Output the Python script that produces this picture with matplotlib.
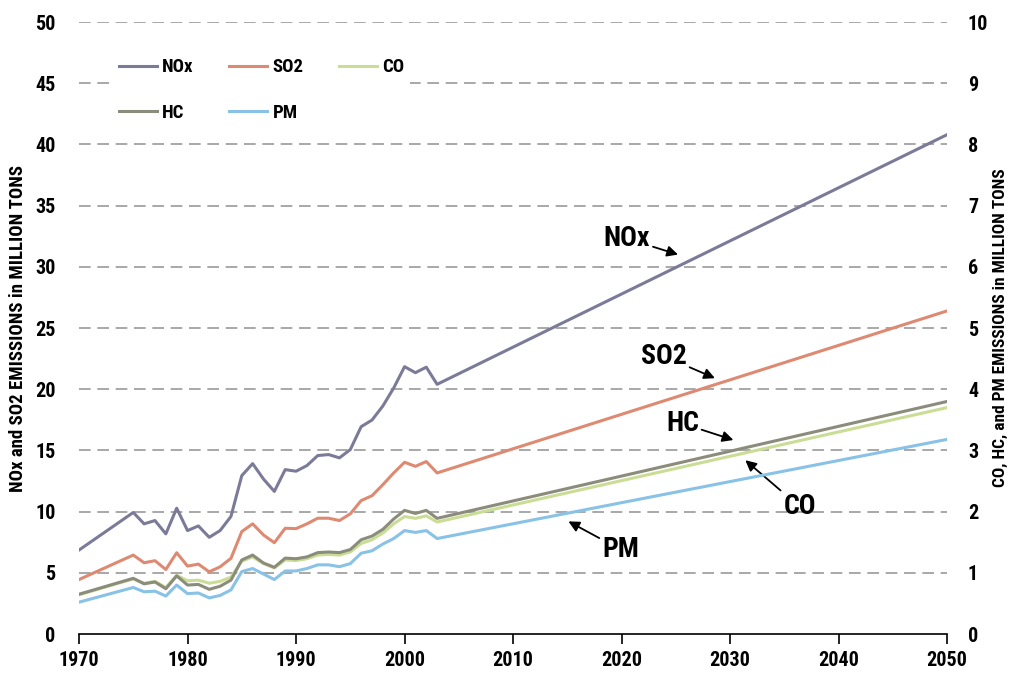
import matplotlib
matplotlib.use("Agg")
import matplotlib.pyplot as plt
from matplotlib.ticker import MultipleLocator

plt.rcParams['font.family'] = ['Roboto Condensed', 'DejaVu Sans']
plt.rcParams['font.stretch'] = 'condensed'
plt.rcParams['font.weight'] = 'bold'

years = [1970, 1975, 1976, 1977, 1978, 1979, 1980, 1981, 1982, 1983, 1984,
         1985, 1986, 1987, 1988, 1989, 1990, 1991, 1992, 1993, 1994, 1995,
         1996, 1997, 1998, 1999, 2000, 2001, 2002, 2003, 2050]

# left axis (million tons)
nox = [6.86, 9.93, 9.0, 9.27, 8.18, 10.28, 8.45, 8.83, 7.9, 8.45, 9.6,
       12.94, 13.92, 12.66, 11.65, 13.43, 13.3, 13.76, 14.58, 14.66, 14.39, 15.07,
       16.94, 17.48, 18.63, 20.1, 21.84, 21.35, 21.8, 20.4, 40.8]
so2 = [4.45, 6.45, 5.82, 5.99, 5.27, 6.64, 5.55, 5.71, 5.08, 5.49, 6.18,
       8.37, 9.0, 8.09, 7.46, 8.64, 8.61, 9.0, 9.46, 9.46, 9.27, 9.82,
       10.9, 11.3, 12.2, 13.16, 14.03, 13.7, 14.09, 13.16, 26.4]

# right axis (million tons)
co = [0.64, 0.90, 0.83, 0.86, 0.76, 0.96, 0.87, 0.88, 0.83, 0.86, 0.93,
      1.19, 1.26, 1.15, 1.08, 1.21, 1.20, 1.23, 1.29, 1.30, 1.29, 1.34,
      1.48, 1.54, 1.65, 1.80, 1.92, 1.89, 1.93, 1.83, 3.70]
hc = [0.65, 0.91, 0.82, 0.85, 0.74, 0.95, 0.80, 0.81, 0.73, 0.78, 0.88,
      1.21, 1.29, 1.16, 1.09, 1.24, 1.23, 1.26, 1.33, 1.34, 1.33, 1.38,
      1.54, 1.60, 1.71, 1.88, 2.02, 1.97, 2.02, 1.89, 3.80]
pm = [0.52, 0.76, 0.69, 0.70, 0.62, 0.80, 0.66, 0.67, 0.59, 0.63, 0.72,
      1.02, 1.07, 0.98, 0.89, 1.03, 1.03, 1.07, 1.13, 1.13, 1.10, 1.15,
      1.32, 1.36, 1.47, 1.56, 1.69, 1.66, 1.69, 1.56, 3.18]

xticks = [1970, 1980, 1990, 2000, 2010, 2020, 2030, 2040, 2050]

c_nox = '#7b7b99'
c_so2 = '#de8a72'
c_co = '#cadd95'
c_hc = '#8c8c7c'
c_pm = '#88c2e6'

fig = plt.figure(figsize=(10.13, 6.77), dpi=100)
ax = fig.add_axes([0.078, 0.0635, 0.857, 0.904])
ax2 = ax.twinx()

lw = 2.2
l_nox, = ax.plot(years, nox, color=c_nox, lw=lw, label='NOx', zorder=3)
l_so2, = ax.plot(years, so2, color=c_so2, lw=lw, label='SO2', zorder=3)
l_co, = ax2.plot(years, co, color=c_co, lw=lw, label='CO', zorder=3)
l_hc, = ax2.plot(years, hc, color=c_hc, lw=lw, label='HC', zorder=4)
l_pm, = ax2.plot(years, pm, color=c_pm, lw=lw, label='PM', zorder=3)

ax.set_xlim(1970, 2050)
ax.set_ylim(0, 50)
ax2.set_ylim(0, 10)
ax.set_xticks(xticks)
ax.yaxis.set_major_locator(MultipleLocator(5))
ax2.yaxis.set_major_locator(MultipleLocator(1))

for a in (ax, ax2):
    for s in ('left', 'right', 'top', 'bottom'):
        a.spines[s].set_visible(False)
ax.spines['bottom'].set_visible(True)
ax.spines['bottom'].set_linewidth(1.2)

ax.tick_params(axis='x', direction='out', length=7, width=1.2, labelsize=14.5, pad=5)
ax.tick_params(axis='y', length=0, labelsize=14.5, pad=17)
ax2.tick_params(axis='y', length=0, labelsize=14.5, pad=15)
for lab in ax.get_xticklabels() + ax.get_yticklabels() + ax2.get_yticklabels():
    lab.set_fontweight('bold')

# dashed gridlines (skip 0 where the axis line sits)
for v in range(5, 55, 5):
    ax.axhline(v, color='#9a9a9a', lw=1.2, ls=(0, (7, 4)), zorder=1)

ax.set_ylabel('NOx and SO2 EMISSIONS in MILLION TONS', fontsize=13.5,
              fontweight='bold', labelpad=6)
ax2.set_ylabel('CO, HC, and PM EMISSIONS in MILLION TONS', fontsize=12.5,
               fontweight='bold', labelpad=3)

# column-major order so rows read NOx SO2 CO / HC PM
leg = ax2.legend(handles=[l_nox, l_hc, l_so2, l_pm, l_co], ncol=3,
                 loc='upper left', bbox_to_anchor=(0.029, 0.965),
                 frameon=True, facecolor='white', edgecolor='none', framealpha=1,
                 prop={'size': 13.5, 'weight': 'bold'},
                 handlelength=2.0, handletextpad=0.3,
                 columnspacing=1.9, labelspacing=1.45, borderpad=0.3)

arrow = dict(arrowstyle='-|>', color='black', lw=1.3, mutation_scale=16,
             shrinkA=0, shrinkB=0)
ann_fs = 20
ax.annotate('NOx', xy=(2025.2, 31.0), xytext=(2020.5, 32.3), fontsize=ann_fs,
            fontweight='bold', ha='center', va='center', arrowprops=arrow, zorder=6)
ax.annotate('SO2', xy=(2028.6, 20.9), xytext=(2023.9, 22.7), fontsize=ann_fs,
            fontweight='bold', ha='center', va='center', arrowprops=arrow, zorder=6)
ax.annotate('HC', xy=(2030.3, 15.85), xytext=(2025.6, 17.2), fontsize=ann_fs,
            fontweight='bold', ha='center', va='center', arrowprops=arrow, zorder=6)
ax.annotate('CO', xy=(2031.4, 14.2), xytext=(2036.4, 10.4), fontsize=ann_fs,
            fontweight='bold', ha='center', va='center', arrowprops=arrow, zorder=6)
ax.annotate('PM', xy=(2015.1, 9.2), xytext=(2019.9, 6.9), fontsize=ann_fs,
            fontweight='bold', ha='center', va='center', arrowprops=arrow, zorder=6)

fig.savefig('out.png', dpi=100)
